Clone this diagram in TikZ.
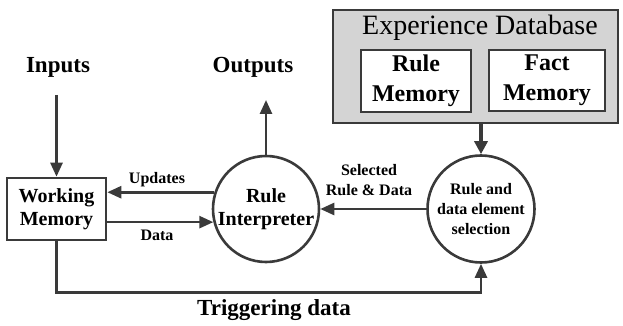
\documentclass[tikz,border=0pt]{standalone}
\usepackage{fontspec}
\setmainfont{Liberation Serif}
\usetikzlibrary{arrows.meta}
\definecolor{dgray}{HTML}{3A3A3A}
\definecolor{dbfill}{HTML}{D4D4D4}
\begin{document}
\begin{tikzpicture}[x=1pt,y=-1pt,
  line/.style={draw=dgray, line width=2.6pt},
  arr/.style={line, -{Triangle[length=14pt,width=12pt]}},
  bigarr/.style={draw=dgray, line width=4pt, -{Triangle[length=13pt,width=13pt]}},
  bigtxt/.style={font=\fontsize{23}{27}\selectfont\bfseries, inner sep=0pt},
  lbltxt/.style={font=\fontsize{16}{20}\selectfont\bfseries, inner sep=0pt, align=center},
  boxnode/.style={line, rectangle, inner sep=0pt, align=center},
  circnode/.style={line, circle, inner sep=0pt, align=center},
]
\useasboundingbox (0,0) rectangle (623,326);

% Experience database
\node[boxnode, fill=dbfill, minimum width=285pt, minimum height=113pt] (db) at (475.5,66.5) {};
\node[inner sep=0pt, font=\fontsize{28}{32}\selectfont] (dbtitle) at (480,28) {Experience Database};
\node[boxnode, fill=white, minimum width=110pt, minimum height=62pt,
      font=\fontsize{24}{30}\selectfont\bfseries] (rm) at (416,81) {Rule\\Memory};
\node[boxnode, fill=white, minimum width=116pt, minimum height=61pt,
      font=\fontsize{24}{30}\selectfont\bfseries] (fm) at (547,80.5) {Fact\\Memory};

% Main nodes
\node[boxnode, minimum width=99pt, minimum height=62pt,
      font=\fontsize{20}{23}\selectfont\bfseries] (wm) at (56.5,209) {Working\\Memory};
\node[circnode, minimum size=106pt,
      font=\fontsize{20}{23}\selectfont\bfseries] (ri) at (266,209) {Rule\\Interpreter};
\node[circnode, minimum size=107pt,
      font=\fontsize{16}{20}\selectfont\bfseries] (rs) at (481,209) {Rule and\\data element\\selection};

% Labels
\node[bigtxt] (inputs) at (58,67) {Inputs};
\node[bigtxt] (outputs) at (253,67) {Outputs};
\node[bigtxt] (trig) at (274,310) {Triggering data};
\node[lbltxt] (upd) at (157,180) {Updates};
\node[lbltxt] (dat) at (157,235) {Data};
\node[lbltxt] (sel) at (369,180) {Selected\\Rule \& Data};

\coordinate (intop) at (56.5,95);
\coordinate (outtip) at (266,100);

% Connectors
\draw[arr] (intop) -- (wm.north);
\draw[arr] (ri.north) -- (outtip);
\draw[arr] (ri.162) -- (ri.162 -| wm.east);
\draw[arr] (ri.194 -| wm.east) -- (ri.194);
\draw[arr] (rs.west) -- (ri.east);
\draw[bigarr] (rs.north |- db.south) -- (rs.north);
\draw[arr] (wm.south) -- ++(0,51) -| (rs.south);
\end{tikzpicture}
\end{document}
